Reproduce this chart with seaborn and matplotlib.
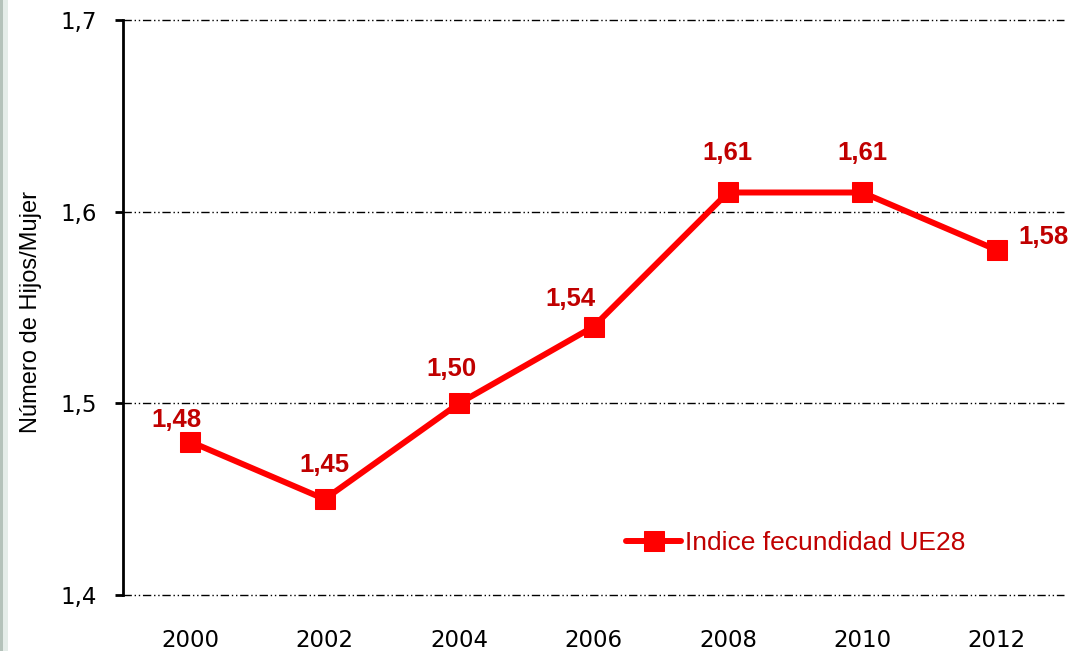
import matplotlib
matplotlib.use("Agg")
import matplotlib.pyplot as plt
import seaborn as sns
import pandas as pd
from matplotlib.patches import Rectangle

years = ["2000", "2002", "2004", "2006", "2008", "2010", "2012"]
values = [1.48, 1.45, 1.50, 1.54, 1.61, 1.61, 1.58]
labels = ["1,48", "1,45", "1,50", "1,54", "1,61", "1,61", "1,58"]
yticks = [1.4, 1.5, 1.6, 1.7]
yticklabels = ["1,4", "1,5", "1,6", "1,7"]
series_name = "Indice fecundidad UE28"

sns.set_style("white")
plt.rcParams['font.family'] = ['DejaVu Sans']

df = pd.DataFrame({"year": years, "value": values})

fig = plt.figure(figsize=(10.75, 6.51), dpi=100)
ax = fig.add_axes([123/1075, 1-595/651, (1064-123)/1075, (595-20)/651])

# light strip at left edge
fig.patches.append(Rectangle((0, 0), 3/1075, 1, transform=fig.transFigure,
                             facecolor="#b4c2ba", edgecolor="none", zorder=0))
fig.patches.append(Rectangle((3/1075, 0), 5/1075, 1, transform=fig.transFigure,
                             facecolor="#e4ece8", edgecolor="none", zorder=0))

sns.lineplot(data=df, x="year", y="value", ax=ax, color="#FF0000", linewidth=4.3,
             marker="s", markersize=15, markeredgecolor="#FF0000", sort=False,
             label=series_name, zorder=5)

ax.set_xlim(-0.5, len(years) - 0.5)
ax.set_ylim(1.4, 1.7)
ax.set_yticks(yticks)
ax.set_yticklabels(yticklabels, fontsize=16.5, color="black")
ax.set_xticks(range(len(years)))
ax.set_xticklabels(years, fontsize=16.5, color="black")
ax.set_xlabel("")
ax.set_ylabel("Número de Hijos/Mujer", fontsize=17, family="Liberation Sans", color="black")
ax.yaxis.set_label_coords(42/1075, 1-312/651, transform=fig.transFigure)

for s in ["top", "right", "bottom"]:
    ax.spines[s].set_visible(False)
ax.spines["left"].set_linewidth(2)
ax.spines["left"].set_color("black")
ax.tick_params(axis="y", which="major", left=True, length=6, width=2, color="black", pad=13)
ax.tick_params(axis="x", bottom=False, pad=21)

for yv in yticks:
    ax.axhline(yv, color="black", linewidth=1.0, dashes=(6, 2, 1, 2, 1, 2),
               zorder=1, clip_on=False)

offsets = [(-14, 22), (0, 34), (-8, 34), (-23, 28), (0, 39), (0, 39), (47, 13)]
for i, (v, lab, off) in enumerate(zip(values, labels, offsets)):
    ax.annotate(lab, (i, v), xytext=(off[0], off[1]), textcoords="offset pixels",
                ha="center", va="center", fontsize=18.5, fontweight="bold",
                color="#C00000", family="Liberation Sans", zorder=6)

leg = ax.legend(loc="center left", bbox_to_anchor=(626/1075, 1-543/651),
                bbox_transform=fig.transFigure, frameon=False, handlelength=2.1,
                handletextpad=0.15, borderaxespad=0, borderpad=0,
                prop={"family": "Liberation Sans", "size": 19}, labelcolor="#C00000")

fig.savefig("out.png", dpi=100)
